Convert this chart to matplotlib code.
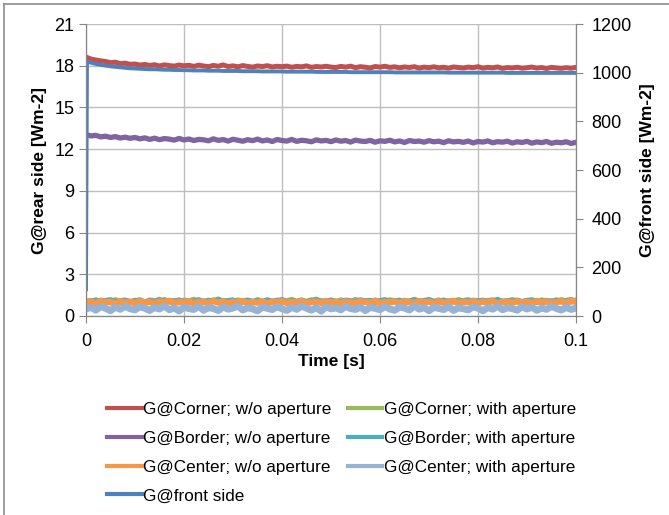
import numpy as np
import matplotlib.pyplot as plt
from matplotlib.lines import Line2D

plt.rcParams['font.family'] = ['Liberation Sans', 'DejaVu Sans']

# time grid (1 ms sampling)
t = np.round(np.arange(0, 0.1005, 0.001), 3)

# G@Corner; w/o aperture [Wm-2], rear side
corner_wo = [18.62, 18.48, 18.41, 18.35, 18.30, 18.22, 18.25, 18.15, 18.18, 18.10, 18.12,
             18.05, 18.09, 18.02, 18.07, 17.98, 18.06, 18.01, 17.97, 18.05, 17.99,
             18.03, 17.95, 18.04, 17.98, 17.93, 18.02, 17.96, 18.06, 17.94, 17.99,
             17.92, 18.01, 17.95, 17.90, 17.98, 17.94, 18.00, 17.91, 17.96, 17.93,
             17.97, 17.89, 17.95, 17.92, 17.99, 17.88, 17.94, 17.91, 17.96, 17.90,
             17.87, 17.95, 17.90, 17.97, 17.86, 17.93, 17.89, 17.84, 17.94, 17.90,
             17.96, 17.88, 17.92, 17.85, 17.91, 17.87, 17.93, 17.83, 17.90, 17.86,
             17.92, 17.85, 17.89, 17.82, 17.91, 17.87, 17.84, 17.90, 17.86, 17.93,
             17.83, 17.88, 17.85, 17.91, 17.81, 17.87, 17.84, 17.89, 17.82, 17.86,
             17.90, 17.83, 17.87, 17.80, 17.88, 17.84, 17.81, 17.86, 17.82, 17.88]

# G@Corner; with aperture
corner_with = [1.02, 1.10, 0.98, 1.12, 1.04, 0.96, 1.15, 1.01, 1.08, 0.97, 1.11,
               1.03, 0.95, 1.13, 1.06, 0.99, 1.16, 1.02, 1.09, 0.96, 1.12,
               1.04, 1.18, 0.98, 1.07, 1.01, 1.14, 0.97, 1.10, 1.05, 0.99,
               1.13, 1.02, 1.08, 0.96, 1.15, 1.03, 1.10, 0.98, 1.12, 1.00,
               1.06, 1.17, 0.99, 1.09, 1.03, 1.14, 0.97, 1.08, 1.02, 1.11,
               0.98, 1.13, 1.05, 1.00, 1.16, 1.03, 1.09, 0.97, 1.12, 1.04,
               1.00, 1.14, 1.06, 0.98, 1.11, 1.02, 1.17, 1.05, 0.99, 1.10,
               1.03, 1.13, 0.97, 1.08, 1.01, 1.15, 1.04, 0.99, 1.12, 1.06,
               1.00, 1.09, 1.14, 0.98, 1.07, 1.02, 1.16, 1.04, 1.00, 1.11,
               1.05, 0.98, 1.13, 1.03, 1.08, 1.00, 1.15, 1.06, 1.02, 1.12]

# G@Border; w/o aperture
border_wo = [13.05, 12.95, 12.99, 12.88, 12.93, 12.84, 12.90, 12.80, 12.86, 12.78, 12.84,
             12.74, 12.81, 12.70, 12.79, 12.68, 12.76, 12.72, 12.65, 12.77, 12.66,
             12.73, 12.62, 12.70, 12.67, 12.60, 12.74, 12.63, 12.69, 12.58, 12.71,
             12.64, 12.57, 12.68, 12.61, 12.72, 12.59, 12.66, 12.55, 12.69, 12.62,
             12.58, 12.70, 12.56, 12.64, 12.60, 12.53, 12.67, 12.59, 12.63, 12.54,
             12.66, 12.57, 12.62, 12.51, 12.65, 12.58, 12.55, 12.63, 12.50, 12.60,
             12.56, 12.64, 12.52, 12.59, 12.48, 12.62, 12.55, 12.58, 12.50, 12.61,
             12.53, 12.57, 12.47, 12.60, 12.52, 12.56, 12.49, 12.58, 12.45, 12.55,
             12.51, 12.59, 12.46, 12.54, 12.50, 12.57, 12.44, 12.53, 12.48, 12.56,
             12.43, 12.52, 12.47, 12.55, 12.42, 12.50, 12.46, 12.53, 12.41, 12.49]

# G@Border; with aperture
border_with = [1.06, 0.99, 1.13, 1.02, 1.09, 1.15, 0.98, 1.07, 1.12, 1.01, 1.05,
               1.14, 0.97, 1.08, 1.03, 1.17, 1.00, 1.10, 1.04, 1.13, 0.98,
               1.07, 1.02, 1.15, 0.99, 1.11, 1.05, 1.19, 1.01, 1.08, 1.13,
               0.97, 1.06, 1.12, 1.03, 1.09, 0.99, 1.14, 1.04, 1.07, 1.16,
               1.00, 1.10, 1.03, 1.13, 0.98, 1.08, 1.18, 1.02, 1.06, 1.11,
               1.04, 0.99, 1.12, 1.07, 1.01, 1.14, 1.05, 1.10, 1.00, 1.08,
               1.15, 1.02, 1.07, 1.11, 0.98, 1.06, 1.13, 1.03, 1.09, 1.16,
               1.01, 1.05, 1.12, 0.99, 1.10, 1.04, 1.08, 1.14, 1.00, 1.07,
               1.11, 1.03, 1.06, 1.17, 0.99, 1.09, 1.04, 1.12, 1.01, 1.08,
               1.14, 1.02, 1.07, 1.10, 0.98, 1.13, 1.05, 1.09, 1.16, 1.03]

# G@Center; w/o aperture
center_wo = [0.95, 1.04, 0.92, 1.07, 0.98, 1.02, 0.90, 1.06, 0.96, 1.03, 0.93,
             1.08, 0.97, 1.01, 0.91, 1.05, 0.99, 1.09, 0.94, 1.02, 0.96,
             1.06, 0.92, 1.03, 1.00, 0.95, 1.08, 0.97, 1.04, 0.91, 1.02,
             0.98, 1.07, 0.93, 1.01, 0.96, 1.05, 0.90, 1.03, 0.99, 1.06,
             0.94, 1.02, 0.97, 1.08, 0.92, 1.00, 1.04, 0.95, 1.07, 0.98,
             1.03, 0.91, 1.05, 0.99, 0.94, 1.06, 1.01, 0.96, 1.09, 0.93,
             1.02, 0.97, 1.05, 0.92, 1.04, 1.00, 0.95, 1.07, 0.98, 1.03,
             0.91, 1.06, 0.96, 1.01, 1.08, 0.94, 1.02, 0.99, 1.05, 0.93,
             1.04, 0.97, 1.07, 0.92, 1.00, 1.03, 0.95, 1.06, 0.98, 1.02,
             0.94, 1.08, 0.99, 1.04, 0.93, 1.01, 1.06, 0.96, 1.10, 1.02]

# G@Center; with aperture
center_with = [0.50, 0.62, 0.42, 0.68, 0.55, 0.38, 0.64, 0.48, 0.70, 0.52, 0.44,
               0.66, 0.56, 0.40, 0.61, 0.50, 0.72, 0.45, 0.58, 0.36, 0.63,
               0.53, 0.47, 0.69, 0.41, 0.60, 0.54, 0.39, 0.65, 0.49, 0.57,
               0.71, 0.43, 0.59, 0.51, 0.37, 0.64, 0.55, 0.46, 0.67, 0.52,
               0.40, 0.62, 0.48, 0.70, 0.56, 0.42, 0.60, 0.35, 0.66, 0.51,
               0.58, 0.44, 0.69, 0.53, 0.47, 0.63, 0.39, 0.61, 0.55, 0.45,
               0.68, 0.50, 0.41, 0.64, 0.57, 0.43, 0.72, 0.49, 0.60, 0.38,
               0.62, 0.54, 0.46, 0.67, 0.40, 0.58, 0.52, 0.44, 0.65, 0.56,
               0.37, 0.61, 0.49, 0.70, 0.45, 0.59, 0.53, 0.42, 0.66, 0.50,
               0.63, 0.41, 0.57, 0.48, 0.69, 0.54, 0.43, 0.62, 0.47, 0.58]

# G@front side [Wm-2], secondary axis: switch-on at t=0, then 1 ms samples
front_t_start = [0.0, 0.0002]
front_start = [110, 1045]
front = [1041, 1036, 1032, 1029, 1026, 1024, 1022, 1020, 1018, 1017,
         1016, 1015, 1014, 1014, 1013, 1012, 1012, 1011, 1011, 1010,
         1010, 1009, 1009, 1009, 1008, 1008, 1008, 1007, 1007, 1007,
         1007, 1006, 1006, 1006, 1006, 1005, 1005, 1005, 1005, 1005,
         1004, 1004, 1004, 1004, 1004, 1004, 1003, 1003, 1003, 1003,
         1003, 1003, 1003, 1002, 1002, 1002, 1002, 1002, 1002, 1002,
         1002, 1002, 1001, 1001, 1001, 1001, 1001, 1001, 1001, 1001,
         1001, 1001, 1001, 1000, 1000, 1000, 1000, 1000, 1000, 1000,
         1000, 1000, 1000, 1000, 1000, 999, 999, 999, 999, 999,
         999, 999, 999, 999, 999, 999, 999, 999, 999, 999]

labels = ['G@Corner; w/o aperture', 'G@Corner; with aperture',
          'G@Border; w/o aperture', 'G@Border; with aperture',
          'G@Center; w/o aperture', 'G@Center; with aperture',
          'G@front side']
colors = ['#C0504D', '#9BBB59', '#8064A2', '#4BACC6', '#F79646', '#95B3D7', '#4F81BD']
widths = [3.6, 4.2, 3.8, 4.2, 4.6, 5.0]
rear = [corner_wo, corner_with, border_wo, border_with, center_wo, center_with]

fig = plt.figure(figsize=(6.69, 5.15), dpi=100)
ax = fig.add_axes([86 / 669, 1 - 316 / 515, 490 / 669, 292 / 515])
ax2 = ax.twinx()

lines = []
for y, c, w, lab in zip(rear, colors[:6], widths, labels[:6]):
    ln, = ax.plot(t, y, color=c, lw=w, label=lab, solid_joinstyle='round')
    lines.append(ln)

front_t = np.concatenate([front_t_start, t[1:]])
ln, = ax2.plot(front_t, front_start + front, color=colors[6], lw=2.8, label=labels[6])
lines.append(ln)

grid_c = '#BEBEBE'
axis_c = '#868686'
ax.set_xlim(0, 0.1)
ax.set_ylim(0, 21)
ax2.set_ylim(0, 1200)
ax.set_xticks([0, 0.02, 0.04, 0.06, 0.08, 0.1])
ax.set_xticklabels(['0', '0.02', '0.04', '0.06', '0.08', '0.1'])
ax.set_yticks(range(0, 22, 3))
ax2.set_yticks(range(0, 1201, 200))
ax.grid(True, color=grid_c, lw=1)
ax.set_axisbelow(True)

for a in (ax, ax2):
    a.spines['top'].set_visible(False)
    for s in ('left', 'right', 'bottom'):
        a.spines[s].set_color(axis_c)
ax.tick_params(axis='both', colors=axis_c, labelcolor='black', labelsize=13, length=5, direction='out')
ax.tick_params(axis='x', pad=7)
ax2.tick_params(axis='y', colors=axis_c, labelcolor='black', labelsize=13, length=5, direction='out', pad=6)

ax.set_xlabel('Time [s]', fontsize=12.5, fontweight='bold', labelpad=3)
ax.set_ylabel('G@rear side [Wm-2]', fontsize=12.5, fontweight='bold', labelpad=5)
ax2.set_ylabel('G@front side [Wm-2]', fontsize=12.5, fontweight='bold', labelpad=6)

# legend rows read left-to-right as in the original
order = [0, 2, 4, 6, 1, 3, 5]
leg = fig.legend([lines[i] for i in order], [labels[i] for i in order], ncol=2,
                 loc='upper left', bbox_to_anchor=(92 / 669, 1 - 387 / 515),
                 frameon=False, fontsize=12.3, handlelength=2.0, handletextpad=0.1,
                 labelspacing=0.8, columnspacing=0.95)
for h in leg.legend_handles:
    h.set_linewidth(3)

# chart-area border (only top and left edges fall inside the image)
fig.add_artist(Line2D([4 / 669, 1], [1 - 4 / 515] * 2, color='#8C8C8C', lw=1.2))
fig.add_artist(Line2D([4 / 669] * 2, [0, 1 - 4 / 515], color='#8C8C8C', lw=1.2))

fig.savefig('out.png', dpi=100)
